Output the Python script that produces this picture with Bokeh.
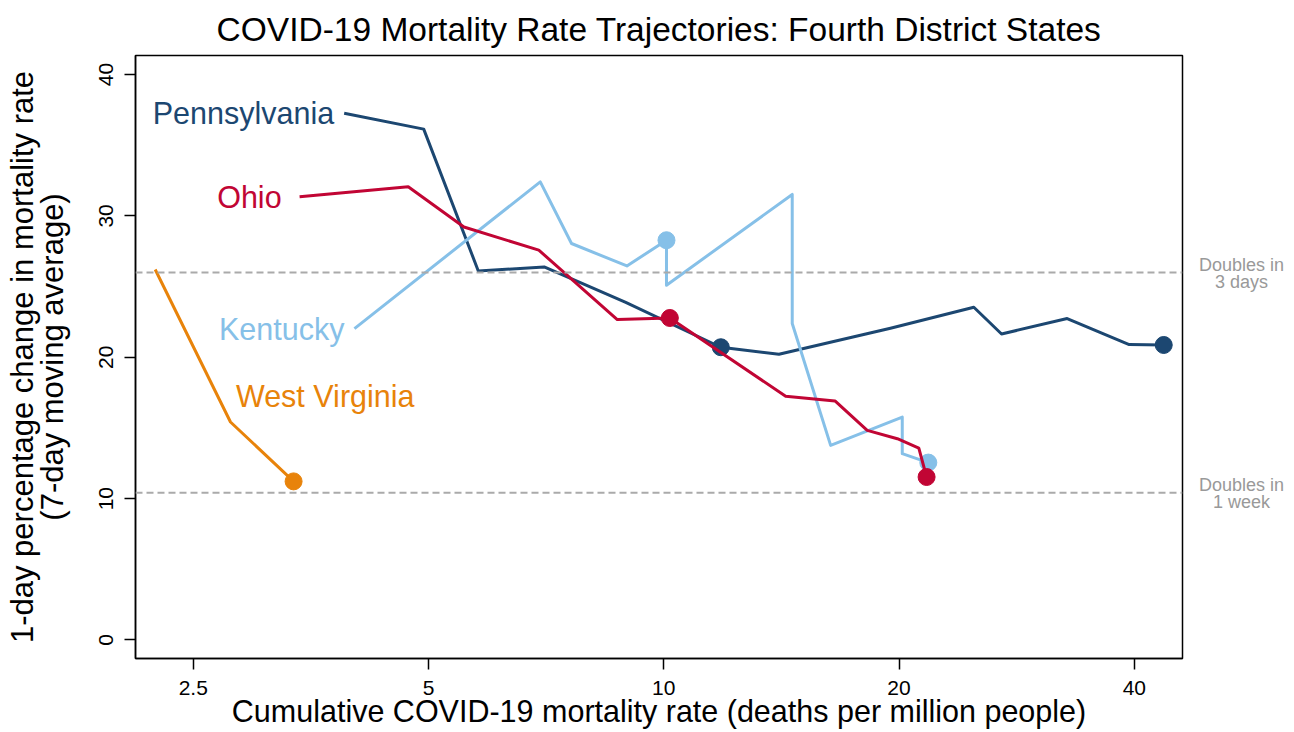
from bokeh.plotting import figure
from bokeh.layouts import row
from bokeh.models import Range1d, FixedTicker, CustomJSTickFormatter, Span, Label
from bokeh.embed import file_html
from bokeh.resources import INLINE

# ---------------- data ----------------
states = ["Pennsylvania", "Kentucky", "Ohio", "West Virginia"]

pa_x = [3.90, 4.93, 5.79, 7.03, 8.94, 11.83, 14.04, 19.50, 24.93, 27.05, 32.82, 39.40, 43.62]
pa_y = [37.27, 36.14, 26.11, 26.39, 23.89, 20.71, 20.21, 22.05, 23.54, 21.65, 22.74, 20.90, 20.87]
pa_marked = [5, 12]

ky_x = [4.02, 6.95, 7.62, 8.97, 10.08, 10.08, 14.60, 14.60, 16.35, 20.19, 20.19, 21.80]
ky_y = [22.03, 32.41, 28.05, 26.46, 28.28, 25.10, 31.52, 22.39, 13.77, 15.77, 13.18, 12.55]
ky_marked = [4, 11]

oh_x = [3.42, 4.71, 5.55, 6.92, 8.72, 10.18, 14.32, 16.56, 18.21, 19.90, 21.20, 21.69]
oh_y = [31.35, 32.06, 29.22, 27.58, 22.67, 22.78, 17.24, 16.91, 14.83, 14.24, 13.58, 11.53]
oh_marked = [5, 11]

wv_x = [2.235, 2.79, 3.36]
wv_y = [26.21, 15.42, 11.22]
wv_marked = [2]

x_ticks = [2.5, 5, 10, 20, 40]
y_ticks = [0, 10, 20, 30, 40]

doubling_rates = [26.0, 10.41]          # doubles in 3 days, in 1 week
doubling_labels = [("Doubles in", "3 days"), ("Doubles in", "1 week")]

# ---------------- style ----------------
FONT = "Liberation Sans"
colors = {"Pennsylvania": "#1c4771", "Kentucky": "#86c0e8", "Ohio": "#c10534", "West Virginia": "#e8830a"}
XR = (2.109, 46.1)
YR = (-1.31, 41.35)
H = 732

p = figure(width=1184, height=H, x_axis_type="log",
           x_range=Range1d(*XR), y_range=Range1d(*YR),
           output_backend="svg", toolbar_location=None,
           title="COVID-19 Mortality Rate Trajectories: Fourth District States")
p.min_border_left = 135
p.min_border_right = 2
p.min_border_top = 55
p.min_border_bottom = 74
p.background_fill_color = "white"
p.border_fill_color = "white"
p.xgrid.visible = False
p.ygrid.visible = False
p.outline_line_color = "black"
p.outline_line_width = 1.5

p.title.align = "center"
p.title.text_font = FONT
p.title.text_font_size = "33.5px"
p.title.text_font_style = "normal"
p.title.text_color = "black"
p.title.standoff = 16

for ax in (p.xaxis[0], p.yaxis[0]):
    ax.axis_line_color = "black"
    ax.axis_line_width = 1.5
    ax.major_tick_line_color = "black"
    ax.major_tick_line_width = 1.5
    ax.major_tick_out = 11
    ax.major_tick_in = 0
    ax.minor_tick_line_color = None
    ax.major_label_text_font = FONT
    ax.major_label_text_font_size = "21px"
    ax.major_label_text_color = "black"
    ax.major_label_standoff = 11
    ax.axis_label_text_font = FONT
    ax.axis_label_text_font_style = "normal"
    ax.axis_label_text_color = "black"

p.xaxis.ticker = FixedTicker(ticks=x_ticks)
p.xaxis.formatter = CustomJSTickFormatter(code="return String(tick)")
p.xaxis.axis_label = "Cumulative COVID-19 mortality rate (deaths per million people)"
p.xaxis.axis_label_text_font_size = "30.5px"
p.xaxis.axis_label_standoff = -4
p.yaxis.ticker = FixedTicker(ticks=y_ticks)
p.yaxis.major_label_orientation = "vertical"
p.yaxis.axis_label = "1-day percentage change in mortality rate\n(7-day moving average)"
p.yaxis.axis_label_text_font_size = "31px"
p.yaxis.axis_label_text_line_height = 0.85
p.yaxis.axis_label_standoff = 27

# reference lines
for r in doubling_rates:
    p.add_layout(Span(location=r, dimension="width", line_color="#aaaaaa",
                      line_dash="7 4", line_width=2))

series = [
    ("Pennsylvania", pa_x, pa_y, pa_marked),
    ("Kentucky", ky_x, ky_y, ky_marked),
    ("Ohio", oh_x, oh_y, oh_marked),
    ("West Virginia", wv_x, wv_y, wv_marked),
]
for name, xs, ys, marked in series:
    c = colors[name]
    p.line(xs, ys, line_color=c, line_width=3, line_join="round")
    p.scatter([xs[i] for i in marked], [ys[i] for i in marked], size=17,
              fill_color=c, line_color=c)

# state labels
for name, xs, ys, off in [("Pennsylvania", pa_x, pa_y, -10), ("Ohio", oh_x, oh_y, -18),
                          ("Kentucky", ky_x, ky_y, -10)]:
    p.add_layout(Label(x=xs[0], y=ys[0], x_offset=off, text=name, text_align="right",
                       text_baseline="middle", text_font=FONT, text_font_size="30.5px",
                       text_color=colors[name]))
p.add_layout(Label(x=2.835, y=17.24, text="West Virginia", text_align="left",
                   text_baseline="middle", text_font=FONT, text_font_size="30.5px",
                   text_color=colors["West Virginia"]))

# right margin panel with the doubling-time notes (shares the y range)
side = figure(width=110, height=H, x_range=Range1d(0, 1), y_range=p.y_range,
              x_axis_location=None, y_axis_location=None,
              output_backend="svg", toolbar_location=None)
side.min_border_left = 0
side.min_border_right = 0
side.min_border_top = 55
side.min_border_bottom = 74
side.outline_line_color = None
side.xgrid.visible = False
side.ygrid.visible = False
side.background_fill_color = "white"
side.border_fill_color = "white"

ann_y = [(26.53, 25.33), (10.95, 9.75)]
for (l1, l2), (y1, y2) in zip(doubling_labels, ann_y):
    for t, yy in ((l1, y1), (l2, y2)):
        side.add_layout(Label(x=0.518, y=yy, text=t, text_align="center",
                              text_baseline="alphabetic", text_font=FONT,
                              text_font_size="18px", text_color="#999999"))

layout = row(p, side, spacing=0)
open("out.html", "w").write(file_html(layout, INLINE))
